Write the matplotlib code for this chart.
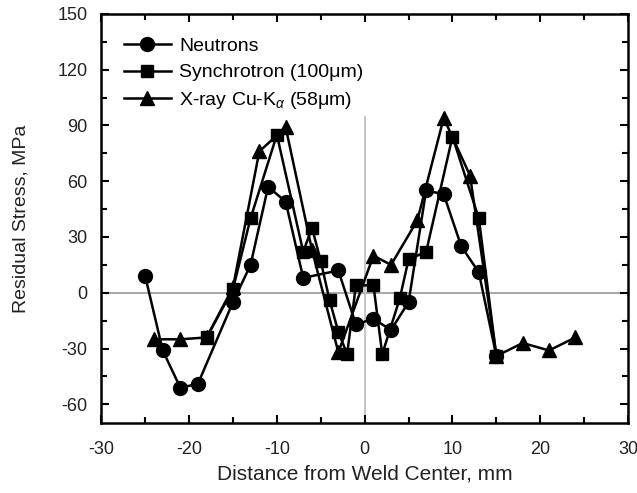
import numpy as np
import matplotlib
matplotlib.use('Agg')
import matplotlib.pyplot as plt

plt.rcParams['font.family'] = ['Liberation Sans', 'DejaVu Sans']
plt.rcParams['axes.unicode_minus'] = False
plt.rcParams['mathtext.fontset'] = 'custom'
plt.rcParams['mathtext.rm'] = 'Liberation Sans'
plt.rcParams['mathtext.it'] = 'Liberation Sans:italic'

# neutron data
neut_x = [-25, -23, -21, -19, -15, -13, -11, -9, -7, -3, -1, 1, 3, 5, 7, 9, 11, 13, 15]
neut_y = [9, -31, -51, -49, -5, 15, 57, 49, 8, 12, -17, -14, -20, -5, 55, 53, 25, 11, -34]

# synchrotron (100um)
sync_x = [-18, -15, -13, -10, -7, -6, -5, -4, -3, -2, -1, 1, 2, 4, 5, 7, 10, 13, 15]
sync_y = [-24, 2, 40, 85, 22, 35, 17, -4, -21, -33, 4, 4, -33, -3, 18, 22, 84, 40, -34]

# x-ray Cu-Ka (58um)
xray_x = [-24, -21, -18, -15, -12, -9, -6, -3, 1, 3, 6, 9, 12, 15, 18, 21, 24]
xray_y = [-25, -25, -24, 3, 76, 89, 23, -32, 20, 15, 39, 94, 63, -34, -27, -31, -24]

fig = plt.figure(figsize=(6.37, 4.93), dpi=100)
ax = fig.add_axes([0.159, 0.142, 0.827, 0.830])

ax.axhline(0, color='#999999', lw=1.2, zorder=1)
ax.vlines(0, -70, 95, color='#bbbbbb', lw=1.2, zorder=1)

ax.plot(neut_x, neut_y, '-o', color='black', lw=1.8, markersize=10, label='Neutrons', zorder=3)
ax.plot(sync_x, sync_y, '-s', color='black', lw=1.8, markersize=9, label='Synchrotron (100\u03bcm)', zorder=3)
ax.plot(xray_x, xray_y, '-^', color='black', lw=1.8, markersize=10,
        label='X-ray Cu-K$_{\\alpha}$ (58\u03bcm)', zorder=3)

ax.set_xlim(-30, 30)
ax.set_ylim(-70, 150)
ax.set_xticks(np.arange(-30, 31, 10))
ax.set_xticks(np.arange(-25, 30, 10), minor=True)
ax.set_yticks(np.arange(-60, 151, 30))
ax.set_yticks(np.arange(-45, 150, 30), minor=True)

for s in ax.spines.values():
    s.set_linewidth(1.8)
ax.tick_params(which='both', direction='in', top=True, right=True, width=1.5,
               labelsize=13, labelcolor='#222222')
ax.tick_params(axis='y', pad=10)
ax.tick_params(axis='x', pad=13)
ax.tick_params(which='major', length=6)
ax.tick_params(which='minor', length=4)

ax.set_xlabel('Distance from Weld Center, mm', fontsize=15, color='#222222', labelpad=5)
ax.set_ylabel('Residual Stress, MPa', fontsize=14, color='#222222', labelpad=20)

leg = ax.legend(loc='upper left', bbox_to_anchor=(0.01, 0.985), frameon=False, fontsize=14,
                handlelength=2.4, labelspacing=0.45, handletextpad=0.45)

fig.savefig('out.png', dpi=100)
